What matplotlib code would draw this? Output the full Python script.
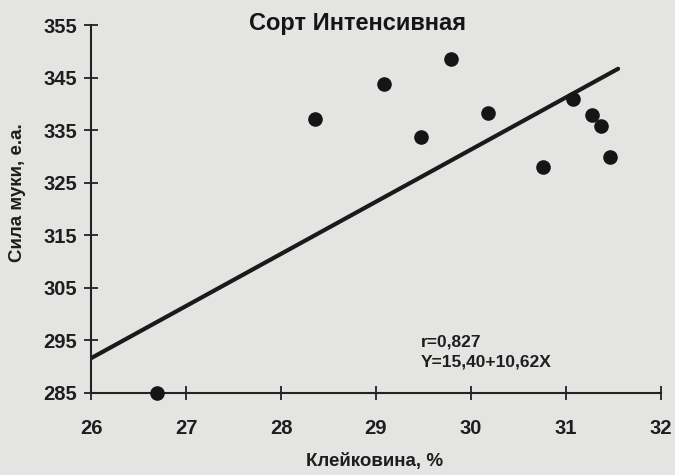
import numpy as np
import matplotlib.pyplot as plt

# values
gluten = [26.69, 28.36, 29.08, 29.47, 29.79, 30.18, 30.76, 31.07, 31.27, 31.37, 31.46]
strength = [285.0, 337.1, 343.8, 333.7, 348.5, 338.3, 328.0, 340.9, 337.9, 335.8, 329.9]

# regression line endpoints as drawn on the chart
line_x = [26.0, 31.55]
line_y = [291.6, 346.7]

x_ticks = [26, 27, 28, 29, 30, 31, 32]
y_ticks = [285, 295, 305, 315, 325, 335, 345, 355]

plt.rcParams['font.family'] = ['Liberation Sans', 'DejaVu Sans']

bg = '#e4e4e2'
fig = plt.figure(figsize=(6.75, 4.75), dpi=100, facecolor=bg)
ax = fig.add_axes([0.135, 0.173, 0.844, 0.774], facecolor=bg)

ax.plot(line_x, line_y, color='#1a1a1a', lw=3, solid_capstyle='round', zorder=2)
ax.scatter(gluten, strength, s=90, color='#151515', zorder=3, clip_on=False)

ax.set_xlim(26, 32)
ax.set_ylim(285, 355)
ax.set_xticks(x_ticks)
ax.set_yticks(y_ticks)
for s in ['top', 'right']:
    ax.spines[s].set_visible(False)
for s in ['left', 'bottom']:
    ax.spines[s].set_linewidth(1.5)
    ax.spines[s].set_color('#222222')
ax.tick_params(direction='inout', length=10, width=1.3, colors='#222222',
               labelsize=14.5, pad=5)
for lbl in ax.get_xticklabels() + ax.get_yticklabels():
    lbl.set_fontweight('bold')
    lbl.set_color('#1e1e1e')
ax.tick_params(axis='x', pad=14)

ax.set_xlabel('Клейковина, %', fontsize=13.5, fontweight='bold', color='#1e1e1e')
ax.xaxis.set_label_coords(0.497, -0.165)
ax.set_ylabel('Сила муки, е.а.', fontsize=13.5, fontweight='bold', color='#1e1e1e')
ax.yaxis.set_label_coords(-0.115, 0.545)

fig.text(0.53, 0.95, 'Сорт Интенсивная', fontsize=17, fontweight='bold',
         ha='center', va='center', color='#151515')
ax.text(29.47, 290.0, 'r=0,827\nY=15,40+10,62X', fontsize=12.5, fontweight='bold',
        color='#1e1e1e', linespacing=1.4)

plt.savefig('out.png', dpi=100, facecolor=bg)
